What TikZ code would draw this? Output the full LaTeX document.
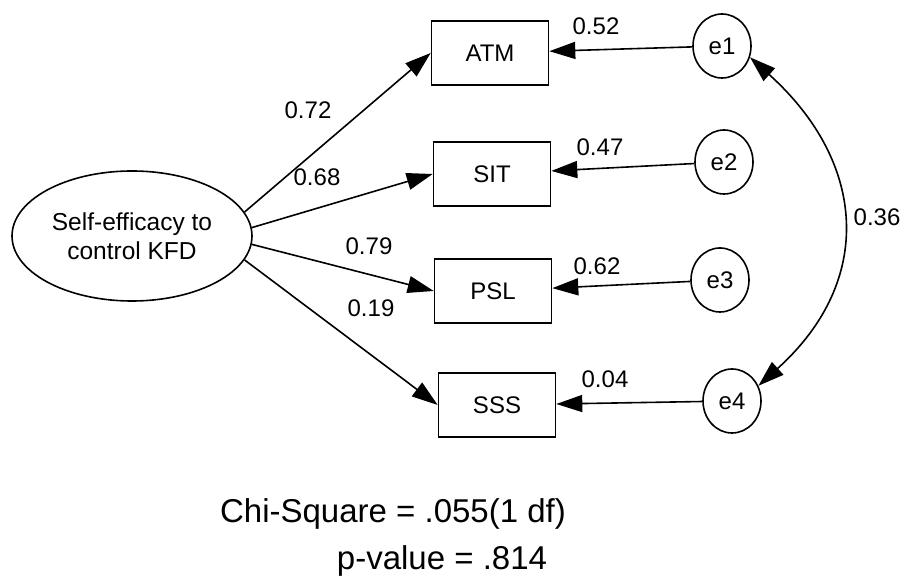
\documentclass[tikz,border=0pt]{standalone}
\usepackage{fontspec}
\setmainfont{Liberation Sans}
\usetikzlibrary{arrows.meta,shapes.geometric}

\begin{document}
\begin{tikzpicture}[x=1pt, y=1pt,
    var/.style={draw, line width=1.6pt, minimum width=117pt, minimum height=64pt,
                font=\fontsize{24}{29}\selectfont},
    lat/.style={draw, ellipse, line width=1.6pt, minimum width=240pt, minimum height=130pt,
                inner sep=0pt, align=center, font=\fontsize{24.5}{29}\selectfont},
    err/.style={draw, ellipse, line width=1.6pt, minimum width=58pt, minimum height=64pt,
                inner sep=0pt, font=\fontsize{24}{29}\selectfont},
    coef/.style={inner sep=0pt, font=\fontsize{24}{29}\selectfont},
    arr/.style={-{Triangle[length=26pt, width=17pt]}, line width=1.6pt},
    cov/.style={{Triangle[length=26pt, width=17pt]}-{Triangle[length=26pt, width=17pt]}, line width=1.6pt},
  ]
    \useasboundingbox (0,0) rectangle (907,583);

    \node[lat] (self) at (132,347) {Self-efficacy to\\control KFD};
    \node[var] (atm)  at (490,530) {ATM};
    \node[var] (sit)  at (492,409) {SIT};
    \node[var] (psl)  at (493,292) {PSL};
    \node[var] (sss)  at (497,178) {SSS};
    \node[err] (e1)   at (722,537) {e1};
    \node[err] (e2)   at (724,421) {e2};
    \node[err] (e3)   at (720,303) {e3};
    \node[err] (e4)   at (732,182) {e4};

    \draw[arr] (self.12)  -- (atm.west);
    \draw[arr] (self.4)   -- (sit.west);
    \draw[arr] (self.-4)  -- (psl.west);
    \draw[arr] (self.-12) -- (sss.west);
    \draw[arr] (e1) -- (atm);
    \draw[arr] (e2) -- (sit);
    \draw[arr] (e3) -- (psl);
    \draw[arr] (e4) -- (sss);
    \draw[cov] (e1.-22) to[out=-42, in=42, looseness=1.22] (e4.30);

    \node[coef] (l72) at (308,473) {0.72};
    \node[coef] (l68) at (317,406) {0.68};
    \node[coef] (l79) at (369,337) {0.79};
    \node[coef] (l19) at (371,275) {0.19};
    \node[coef] (l52) at (596,557) {0.52};
    \node[coef] (l47) at (600,436) {0.47};
    \node[coef] (l62) at (597,317) {0.62};
    \node[coef] (l04) at (605,204) {0.04};
    \node[coef] (l36) at (877,366) {0.36};

    \node[coef, anchor=base, font=\fontsize{33}{40}\selectfont] (chi)  at (393,60) {Chi-Square = .055(1 df)};
    \node[coef, anchor=base, font=\fontsize{33}{40}\selectfont] (pval) at (442,13) {p-value = .814};
  \end{tikzpicture}
\end{document}
